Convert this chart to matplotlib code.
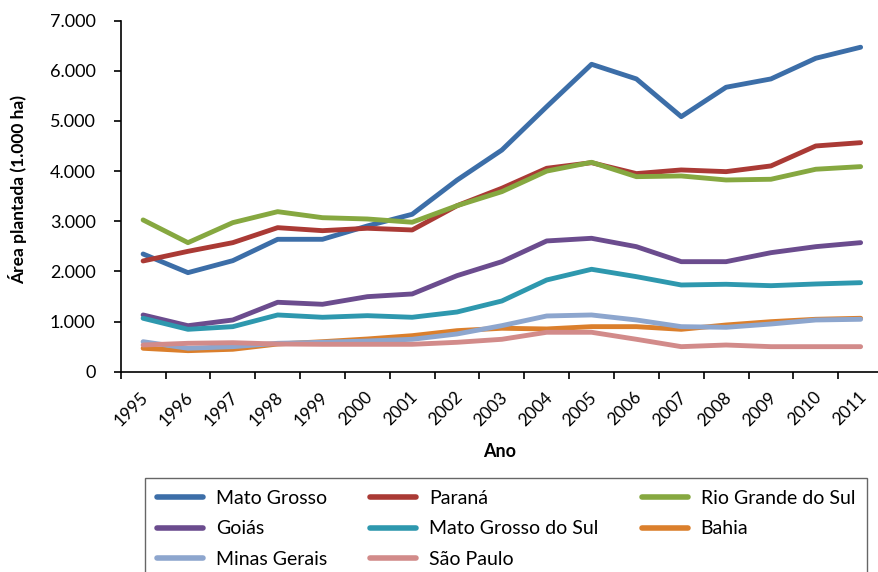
"""
Área plantada de soja por estado, 1995-2011 (1.000 ha).
"""

import matplotlib.pyplot as plt
from matplotlib.ticker import FuncFormatter, FixedLocator
from matplotlib.transforms import ScaledTranslation

plt.rcParams["font.family"] = ["Lato", "DejaVu Sans"]

years = list(range(1995, 2012))

mato_grosso = [2347, 1975, 2214, 2640, 2640, 2906, 3139, 3820, 4420, 5285,
               6130, 5838, 5086, 5672, 5838, 6250, 6470]
parana = [2208, 2400, 2573, 2872, 2812, 2860, 2826, 3310, 3658, 4056,
          4168, 3950, 4023, 3989, 4103, 4501, 4567]
rio_grande_do_sul = [3026, 2573, 2972, 3191, 3071, 3045, 2980, 3310, 3590, 4000,
                     4176, 3889, 3903, 3823, 3837, 4037, 4089]
goias = [1131, 917, 1031, 1384, 1344, 1496, 1550, 1915, 2194, 2607,
         2660, 2493, 2194, 2194, 2373, 2493, 2573]
mato_grosso_do_sul = [1065, 845, 898, 1131, 1085, 1117, 1085, 1190, 1410, 1829,
                      2042, 1895, 1729, 1743, 1715, 1749, 1775]
bahia = [467, 419, 447, 552, 598, 652, 718, 818, 866, 852,
         898, 898, 845, 931, 997, 1045, 1065]
minas_gerais = [598, 467, 499, 566, 586, 612, 646, 752, 918, 1111,
                1131, 1031, 898, 885, 951, 1031, 1045]
sao_paulo = [532, 566, 578, 552, 546, 546, 546, 586, 646, 786,
             786, 646, 499, 532, 499, 499, 499]

series = [
    ("Mato Grosso", mato_grosso, "#3C6EA8"),
    ("Paraná", parana, "#AA3A35"),
    ("Rio Grande do Sul", rio_grande_do_sul, "#86A840"),
    ("Goiás", goias, "#6B4C8E"),
    ("Mato Grosso do Sul", mato_grosso_do_sul, "#2E98AE"),
    ("Bahia", bahia, "#DB7F2C"),
    ("Minas Gerais", minas_gerais, "#8DA6CE"),
    ("São Paulo", sao_paulo, "#D28B8A"),
]

fig = plt.figure(figsize=(8.79, 5.72), dpi=100)
# axis runs a little past the right border of the figure
ax = fig.add_axes([0.1373, 0.3502, 0.8673, 0.6137])

x = list(range(len(years)))
lines = []
for name, values, color in series:
    ln, = ax.plot(x, values, color=color, linewidth=3.5, label=name,
                  solid_capstyle="round", solid_joinstyle="round")
    lines.append(ln)

ax.set_xlim(-0.5, len(years) - 0.5)
ax.set_ylim(0, 7000)

ax.spines["top"].set_visible(False)
ax.spines["right"].set_visible(False)
for side in ("left", "bottom"):
    ax.spines[side].set_linewidth(1.2)

ax.set_yticks(range(0, 7001, 1000))
ax.yaxis.set_major_formatter(
    FuncFormatter(lambda v, _: f"{int(v):,}".replace(",", ".")))

# ticks sit between categories, labels at category centres
ax.xaxis.set_major_locator(FixedLocator([i - 0.5 for i in range(len(years) + 1)]))
ax.xaxis.set_major_formatter(FuncFormatter(lambda v, _: ""))
ax.xaxis.set_minor_locator(FixedLocator(x))
ax.set_xticklabels([str(y) for y in years], minor=True, rotation=45,
                   ha="right", va="center", rotation_mode="anchor",
                   fontsize=12.5)
ax.tick_params(axis="x", which="minor", length=0, pad=16.5)
ax.tick_params(axis="both", which="major", length=5, width=1.2,
               direction="out", labelsize=13)
ax.tick_params(axis="y", which="major", pad=13)
shift = ScaledTranslation(0.03, 0, fig.dpi_scale_trans)
for lab in ax.get_xticklabels(minor=True):
    lab.set_transform(lab.get_transform() + shift)

ax.set_xlabel("Ano", fontsize=13, fontweight="bold")
ax.xaxis.set_label_coords(0.4976, -0.203)
ax.set_ylabel("Área plantada (1.000 ha)", fontsize=12.5, fontweight="bold")
ax.yaxis.set_label_coords(-0.123, 0.518)

# legend reads row by row: reorder for matplotlib's column-major fill
order = [0, 3, 6, 1, 4, 7, 2, 5]
leg = fig.legend([lines[i] for i in order], [series[i][0] for i in order],
                 loc="upper left", bbox_to_anchor=(0.1655, 0.164), ncol=3,
                 fontsize=14, frameon=True, fancybox=False,
                 handlelength=2.37, handletextpad=0.67, columnspacing=2.2,
                 labelspacing=0.7, borderpad=0.6, borderaxespad=0)
leg.get_frame().set_edgecolor("#404040")
leg.get_frame().set_linewidth(1.0)
for line in leg.get_lines():
    line.set_linewidth(4)

fig.savefig("out.png", dpi=100)
